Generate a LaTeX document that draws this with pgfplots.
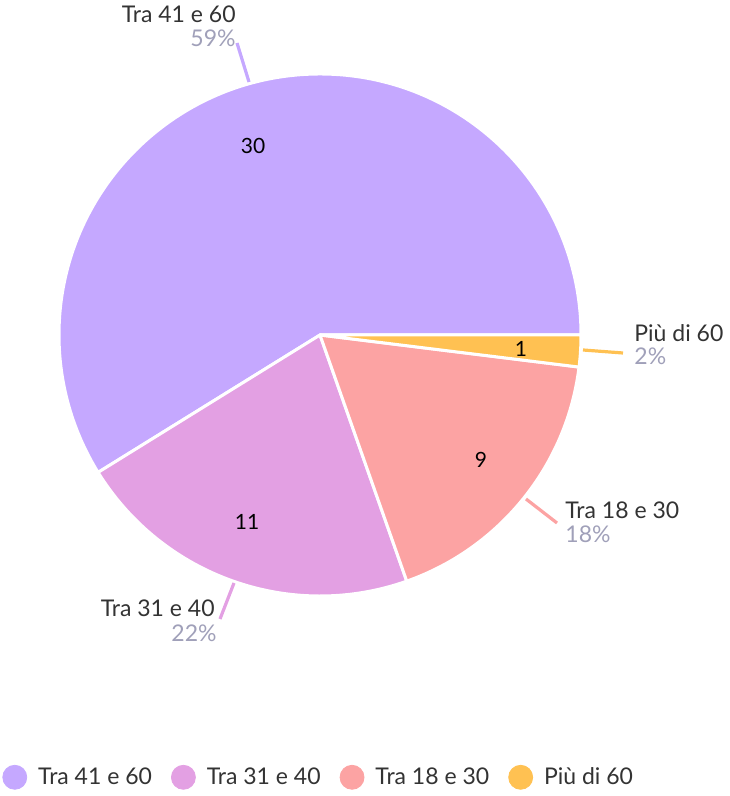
\documentclass[border=0pt]{standalone}
\usepackage{pgfplots}
\usepackage{pgfplotstable}
\pgfplotsset{compat=1.18}
\usepackage{fontspec}
\setmainfont{Lato}
\definecolor{cA}{HTML}{C5A8FF}
\definecolor{cB}{HTML}{E3A0E3}
\definecolor{cC}{HTML}{FCA3A3}
\definecolor{cD}{HTML}{FFC152}
\definecolor{txt}{HTML}{333333}
\definecolor{pct}{RGB}{160,160,185}
\pgfplotstableread{
label value
{Tra 41 e 60} 30
{Tra 31 e 40} 11
{Tra 18 e 30} 9
{Più di 60} 1
}\piedata
\pgfplotstablegetelem{0}{value}\of\piedata \let\vA\pgfplotsretval
\pgfplotstablegetelem{1}{value}\of\piedata \let\vB\pgfplotsretval
\pgfplotstablegetelem{2}{value}\of\piedata \let\vC\pgfplotsretval
\pgfplotstablegetelem{3}{value}\of\piedata \let\vD\pgfplotsretval
\pgfmathsetmacro\tot{\vA+\vB+\vC+\vD}
\pgfmathsetmacro\aA{360*\vA/\tot}
\pgfmathsetmacro\aB{\aA+360*\vB/\tot}
\pgfmathsetmacro\aC{\aB+360*\vC/\tot}
\def\R{130.5pt}
\def\lblfont{\fontsize{11.5}{13}\selectfont}
\begin{document}
\begin{tikzpicture}
\begin{axis}[
  x=0.5pt, y=0.5pt,
  xmin=0, xmax=729, ymin=0, ymax=796,
  hide axis, clip=false,
  legend columns=4,
  legend image code/.code={\fill[#1] (6pt,0pt) circle (6pt);},
  legend style={draw=none, fill=none, at={(axis description cs:0.0027,0.0235)}, anchor=west,
    font=\lblfont, text=txt, inner sep=0pt, nodes={inner sep=0pt},
    /tikz/every odd column/.append style={column sep=5.5pt},
    /tikz/every even column/.append style={column sep=9.5pt}},
]
\addlegendimage{cA}
\addlegendentry{Tra 41 e 60}
\addlegendimage{cB}
\addlegendentry{Tra 31 e 40}
\addlegendimage{cC}
\addlegendentry{Tra 18 e 30}
\addlegendimage{cD}
\addlegendentry{Più di 60}

\fill[cA, draw=white, line width=1.5pt, line join=round] (axis cs:320,461) -- ++(0:\R) arc[start angle=0, end angle=\aA, radius=\R] -- cycle;
\fill[cB, draw=white, line width=1.5pt, line join=round] (axis cs:320,461) -- ++(\aA:\R) arc[start angle=\aA, end angle=\aB, radius=\R] -- cycle;
\fill[cC, draw=white, line width=1.5pt, line join=round] (axis cs:320,461) -- ++(\aB:\R) arc[start angle=\aB, end angle=\aC, radius=\R] -- cycle;
\fill[cD, draw=white, line width=1.5pt, line join=round] (axis cs:320,461) -- ++(\aC:\R) arc[start angle=\aC, end angle=360, radius=\R] -- cycle;

% leader lines
\draw[cA, line width=1.6pt] (axis cs:237,753) -- (axis cs:249,714);
\draw[cD, line width=1.6pt] (axis cs:583,446) -- (axis cs:623,443);
\draw[cC, line width=1.6pt] (axis cs:526,297) -- (axis cs:557,273);
\draw[cB, line width=1.6pt] (axis cs:234,213) -- (axis cs:220,177);

% outside labels
\begin{scope}[every node/.style={font=\lblfont, inner sep=0pt}]
\node[anchor=base east, text=txt] at (axis cs:236,773) {Tra 41 e 60};
\node[anchor=base east, text=pct] at (axis cs:236,749) {59\%};
\node[anchor=base west, text=txt] at (axis cs:634,454) {Più di 60};
\node[anchor=base west, text=pct] at (axis cs:634,431) {2\%};
\node[anchor=base west, text=txt] at (axis cs:565,277) {Tra 18 e 30};
\node[anchor=base west, text=pct] at (axis cs:565,253) {18\%};
\node[anchor=base east, text=txt] at (axis cs:215,179) {Tra 31 e 40};
\node[anchor=base east, text=pct] at (axis cs:217,154) {22\%};
\end{scope}

% values inside
\begin{scope}[every node/.style={font=\fontsize{10.5}{12}\selectfont, inner sep=0pt, text=black}]
\node at (axis cs:253,650) {\vA};
\node at (axis cs:247,274) {\vB};
\node at (axis cs:481,336) {\vC};
\node at (axis cs:521,447) {\vD};
\end{scope}
\end{axis}
\pgfresetboundingbox
\useasboundingbox (0,0) rectangle (364.5pt,398pt);
\end{tikzpicture}
\end{document}
